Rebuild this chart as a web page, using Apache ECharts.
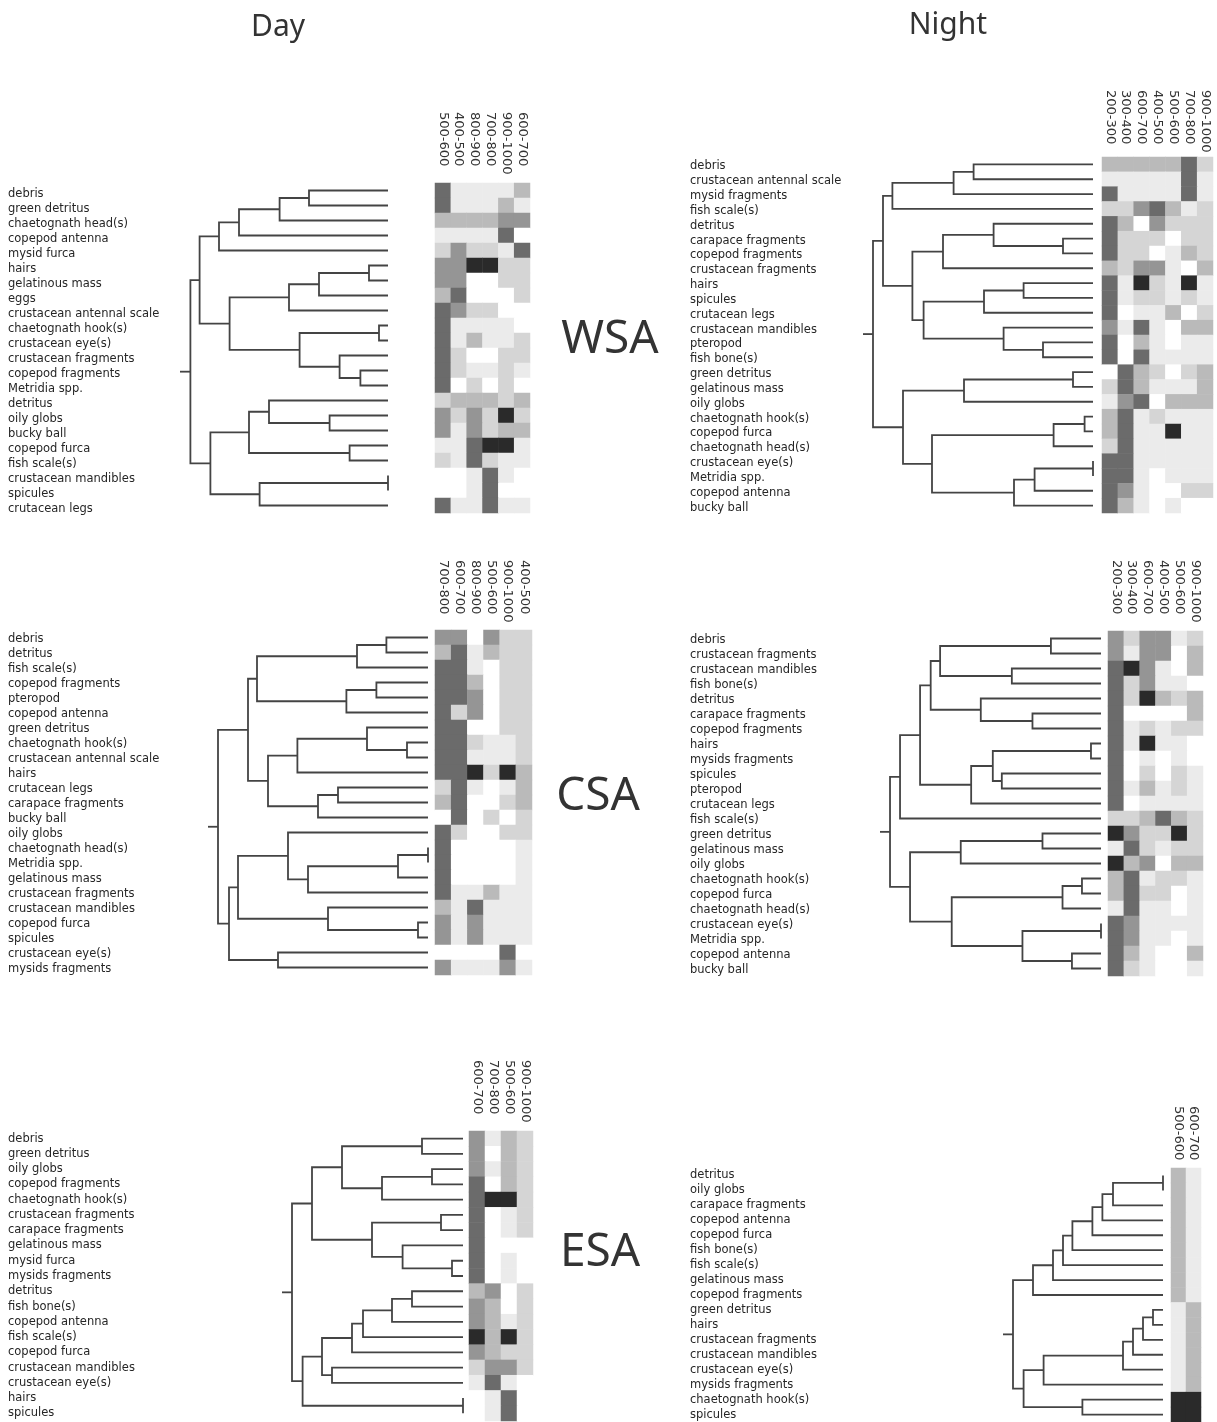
<!DOCTYPE html>
<html>
<head>
<meta charset="utf-8">
<script src="https://cdn.jsdelivr.net/npm/echarts@6/dist/echarts.min.js"></script>
<style>
  html, body { margin: 0; padding: 0; background: #ffffff; }
  #chart { width: 1217px; height: 1422px; }
</style>
</head>
<body>
<div id="chart"></div>
<script>
// Shade level of each cell: 0 = absent (white) ... 6 = most abundant (black).
// Trees are nested [left, right, height]; a plain number is a leaf (row index).

// ---------- WSA, day ----------
const wsaDayItems = ['debris', 'green detritus', 'chaetognath head(s)', 'copepod antenna', 'mysid furca',
  'hairs', 'gelatinous mass', 'eggs', 'crustacean antennal scale', 'chaetognath hook(s)', 'crustacean eye(s)',
  'crustacean fragments', 'copepod fragments', 'Metridia spp.', 'detritus', 'oily globs', 'bucky ball',
  'copepod furca', 'fish scale(s)', 'crustacean mandibles', 'spicules', 'crutacean legs'];
const wsaDayDepths = ['500-600', '400-500', '800-900', '700-800', '900-1000', '600-700'];
const wsaDayShade = [
  [5, 1, 1, 1, 1, 3], [5, 1, 1, 1, 3, 1], [3, 3, 3, 3, 4, 4], [1, 1, 1, 1, 5, 0],
  [2, 4, 2, 2, 1, 5], [4, 4, 6, 6, 2, 2], [4, 4, 0, 0, 2, 2], [3, 5, 0, 0, 0, 2],
  [5, 4, 2, 2, 0, 0], [5, 1, 1, 1, 1, 0], [5, 1, 3, 1, 1, 2], [5, 2, 0, 0, 2, 2],
  [5, 2, 1, 1, 2, 1], [5, 0, 2, 0, 2, 0], [2, 3, 3, 3, 2, 3], [4, 2, 4, 2, 6, 2],
  [4, 1, 4, 2, 3, 3], [1, 1, 5, 6, 6, 1], [2, 1, 5, 2, 1, 1], [0, 0, 1, 5, 1, 0],
  [0, 0, 1, 5, 0, 0], [5, 1, 1, 5, 1, 1]];
const wsaDayTree = [
  [
    [[[[0, 1, 39.5], 2, 54.2], 3, 74.5], 4, 84.5],
    [[[[5, 6, 9.5], 7, 34.5], 8, 49.5], [[9, 10, 4.5], [11, [12, 13, 13.8], 24.2], 44.2], 79.2],
    94.2
  ],
  [[[14, [15, 16, 29.2], 59.5], [17, 18, 19.2], 69.5], [[19, 20, 0], 21, 64.2], 88.8],
  98.8];

// ---------- WSA, night ----------
const wsaNightItems = ['debris', 'crustacean antennal scale', 'mysid fragments', 'fish scale(s)', 'detritus',
  'carapace fragments', 'copepod fragments', 'crustacean fragments', 'hairs', 'spicules', 'crutacean legs',
  'crustacean mandibles', 'pteropod', 'fish bone(s)', 'green detritus', 'gelatinous mass', 'oily globs',
  'chaetognath hook(s)', 'copepod furca', 'chaetognath head(s)', 'crustacean eye(s)', 'Metridia spp.',
  'copepod antenna', 'bucky ball'];
const wsaNightDepths = ['200-300', '300-400', '600-700', '400-500', '500-600', '700-800', '900-1000'];
const wsaNightShade = [
  [3, 3, 3, 3, 3, 5, 2], [1, 1, 1, 1, 1, 5, 1], [5, 1, 1, 1, 1, 5, 1], [2, 2, 4, 5, 3, 1, 2],
  [5, 3, 0, 4, 2, 2, 2], [5, 2, 2, 2, 0, 2, 2], [5, 2, 2, 0, 1, 3, 2], [3, 2, 4, 4, 1, 0, 3],
  [5, 1, 6, 2, 1, 6, 1], [5, 1, 2, 2, 1, 2, 1], [5, 0, 1, 1, 3, 0, 2], [4, 1, 5, 1, 0, 3, 3],
  [5, 0, 3, 1, 0, 1, 1], [5, 0, 5, 1, 1, 1, 1], [0, 5, 3, 2, 0, 2, 3], [2, 5, 3, 1, 1, 1, 3],
  [1, 4, 5, 0, 3, 3, 3], [3, 5, 1, 2, 1, 1, 1], [3, 5, 1, 1, 6, 1, 1], [2, 5, 1, 1, 1, 1, 1],
  [5, 5, 1, 1, 1, 1, 1], [5, 5, 1, 0, 1, 1, 1], [5, 4, 1, 0, 0, 2, 2], [5, 3, 1, 0, 1, 0, 0]];
const wsaNightTree = [
  [
    [[[0, 1, 59.7], 2, 69.7], 3, 100.3],
    [[[4, [5, 6, 15], 49.7], 7, 75], [[[8, 9, 34.7], 10, 54.5], [11, [12, 13, 25], 44.7], 84.7], 90.3],
    105
  ],
  [[[14, 15, 10], 16, 64.5], [[[17, 18, 4.2], 19, 19.7], [[[20, 21, 0], 22, 29.2], 23, 39.5], 80.5], 95],
  110];

// ---------- CSA, day ----------
const csaDayItems = ['debris', 'detritus', 'fish scale(s)', 'copepod fragments', 'pteropod', 'copepod antenna',
  'green detritus', 'chaetognath hook(s)', 'crustacean antennal scale', 'hairs', 'crutacean legs',
  'carapace fragments', 'bucky ball', 'oily globs', 'chaetognath head(s)', 'Metridia spp.', 'gelatinous mass',
  'crustacean fragments', 'crustacean mandibles', 'copepod furca', 'spicules', 'crustacean eye(s)',
  'mysids fragments'];
const csaDayDepths = ['700-800', '600-700', '800-900', '500-600', '900-1000', '400-500'];
const csaDayShade = [
  [4, 4, 0, 4, 2, 2], [3, 5, 1, 3, 2, 2], [5, 5, 1, 0, 2, 2], [5, 5, 3, 0, 2, 2],
  [5, 5, 4, 0, 2, 2], [5, 2, 4, 0, 2, 2], [5, 5, 0, 0, 2, 2], [5, 5, 2, 1, 1, 2],
  [5, 5, 1, 1, 1, 2], [5, 5, 6, 2, 6, 3], [2, 5, 1, 0, 1, 3], [3, 5, 0, 0, 2, 3],
  [0, 5, 0, 2, 0, 2], [5, 2, 0, 0, 2, 2], [5, 0, 0, 0, 0, 1], [5, 0, 0, 0, 0, 1],
  [5, 0, 0, 0, 0, 1], [5, 1, 1, 3, 1, 1], [3, 1, 5, 1, 1, 1], [4, 1, 4, 1, 1, 1],
  [4, 1, 4, 1, 1, 1], [0, 0, 0, 0, 5, 0], [4, 1, 1, 1, 4, 1]];
const csaDayTree = [
  [
    [[[0, 1, 20.8], 2, 35.5], [[3, 4, 25.8], 5, 40.8], 85.5],
    [[[6, [7, 8, 10.5], 30.5], 9, 65.3], [[10, 11, 45], 12, 55], 80],
    90
  ],
  [[[13, [[[14, 15, 0], 16, 15], 17, 60], 70], [18, [19, 20, 5], 50], 95], [21, 22, 75], 99.5],
  105];

// ---------- CSA, night ----------
const csaNightItems = ['debris', 'crustacean fragments', 'crustacean mandibles', 'fish bone(s)', 'detritus',
  'carapace fragments', 'copepod fragments', 'hairs', 'mysids fragments', 'spicules', 'pteropod',
  'crutacean legs', 'fish scale(s)', 'green detritus', 'gelatinous mass', 'oily globs', 'chaetognath hook(s)',
  'copepod furca', 'chaetognath head(s)', 'crustacean eye(s)', 'Metridia spp.', 'copepod antenna',
  'bucky ball'];
const csaNightDepths = ['200-300', '300-400', '600-700', '400-500', '500-600', '900-1000'];
const csaNightShade = [
  [4, 2, 4, 4, 1, 2], [4, 1, 4, 4, 0, 3], [5, 6, 4, 1, 0, 3], [5, 2, 4, 1, 1, 0],
  [5, 2, 6, 3, 2, 3], [5, 0, 0, 0, 0, 3], [5, 1, 2, 1, 2, 2], [5, 1, 6, 1, 1, 0],
  [5, 0, 1, 0, 1, 0], [5, 0, 2, 0, 2, 1], [5, 1, 3, 1, 2, 1], [5, 0, 1, 1, 1, 1],
  [2, 2, 3, 5, 3, 2], [6, 4, 2, 2, 6, 2], [1, 5, 2, 1, 2, 2], [6, 3, 4, 0, 3, 3],
  [3, 5, 1, 2, 2, 1], [3, 5, 2, 2, 0, 1], [1, 5, 1, 1, 0, 1], [5, 4, 1, 1, 1, 1],
  [5, 4, 1, 1, 0, 1], [5, 3, 1, 0, 0, 3], [5, 2, 1, 0, 0, 1]];
const csaNightTree = [
  [
    [
      [[[0, 1, 25], [2, 3, 44.5], 80.3], [4, [5, 6, 34.2], 60], 85],
      [[[7, 8, 5], [9, 10, 49.5], 54], 11, 64.8],
      90.3
    ],
    12, 100.3
  ],
  [[[13, 14, 29.2], 15, 70], [[[16, 17, 9.5], 18, 19.2], [[19, 20, 0], [21, 22, 14.5], 39.2], 74.5], 95.3],
  105.3];

// ---------- ESA, day ----------
const esaDayItems = ['debris', 'green detritus', 'oily globs', 'copepod fragments', 'chaetognath hook(s)',
  'crustacean fragments', 'carapace fragments', 'gelatinous mass', 'mysid furca', 'mysids fragments',
  'detritus', 'fish bone(s)', 'copepod antenna', 'fish scale(s)', 'copepod furca', 'crustacean mandibles',
  'crustacean eye(s)', 'hairs', 'spicules'];
const esaDayDepths = ['600-700', '700-800', '500-600', '900-1000'];
const esaDayShade = [
  [4, 1, 3, 2], [4, 0, 3, 2], [4, 1, 3, 2], [5, 0, 3, 2], [5, 6, 6, 2],
  [5, 0, 1, 2], [5, 0, 1, 2], [5, 0, 0, 0], [5, 0, 1, 0], [5, 0, 1, 0],
  [3, 4, 0, 2], [4, 3, 0, 2], [4, 3, 1, 2], [6, 3, 6, 2], [4, 3, 2, 2],
  [2, 4, 4, 2], [1, 5, 1, 0], [0, 1, 5, 0], [0, 1, 5, 0]];
const esaDayTree = [
  [[[0, 1, 20.5], [[2, 3, 15.5], 4, 40.5], 60.5], [[5, 6, 11], [7, [8, 9, 5.5], 30.2], 45.5], 75.5],
  [[[[[[10, 11, 25.5], 12, 35.5], 13, 50], 14, 55.5], [15, 16, 65.5], 70.5], [17, 18, 0], 80.2],
  85.5];

// ---------- ESA, night ----------
const esaNightItems = ['detritus', 'oily globs', 'carapace fragments', 'copepod antenna', 'copepod furca',
  'fish bone(s)', 'fish scale(s)', 'gelatinous mass', 'copepod fragments', 'green detritus', 'hairs',
  'crustacean fragments', 'crustacean mandibles', 'crustacean eye(s)', 'mysids fragments',
  'chaetognath hook(s)', 'spicules'];
const esaNightDepths = ['500-600', '600-700'];
const esaNightShade = [
  [3, 1], [3, 1], [3, 1], [3, 1], [3, 1], [3, 1], [3, 1], [3, 1], [3, 1],
  [1, 3], [1, 3], [1, 3], [1, 3], [1, 3], [1, 3], [6, 6], [6, 6]];
const esaNightTree = [
  [[[[[[[[0, 1, 0], 2, 25], 3, 30.3], 4, 35.3], 5, 45.3], 6, 50], 7, 55], 8, 65],
  [[[[[[9, 10, 5], 11, 10], 12, 15], 13, 20], 14, 59.7], [15, 16, 40.3], 69.7],
  75];

// Panel placement (pixels) and the extent of each tree's root stub.
const panels = [
  { items: wsaDayItems, depths: wsaDayDepths, shade: wsaDayShade, tree: wsaDayTree, reach: 104,
    box: { labelX: 8, labelDrop: 4, treeLeft: 180, treeRight: 388, mapLeft: 435, mapRight: 530, top: 183, bottom: 513, headGap: 71 } },
  { items: wsaNightItems, depths: wsaNightDepths, shade: wsaNightShade, tree: wsaNightTree, reach: 115,
    box: { labelX: 690, labelDrop: 2, treeLeft: 863, treeRight: 1093, mapLeft: 1102, mapRight: 1213, top: 157, bottom: 513, headGap: 67 } },
  { items: csaDayItems, depths: csaDayDepths, shade: csaDayShade, tree: csaDayTree, reach: 110,
    box: { labelX: 8, labelDrop: 2, treeLeft: 208, treeRight: 428, mapLeft: 435, mapRight: 532, top: 630, bottom: 975, headGap: 70 } },
  { items: csaNightItems, depths: csaNightDepths, shade: csaNightShade, tree: csaNightTree, reach: 110.3,
    box: { labelX: 690, labelDrop: 2, treeLeft: 880, treeRight: 1101, mapLeft: 1108, mapRight: 1203, top: 631, bottom: 976, headGap: 71 } },
  { items: esaDayItems, depths: esaDayDepths, shade: esaDayShade, tree: esaDayTree, reach: 90.5,
    box: { labelX: 8, labelDrop: 0, treeLeft: 282, treeRight: 463, mapLeft: 469, mapRight: 533, top: 1131, bottom: 1421, headGap: 71 } },
  { items: esaNightItems, depths: esaNightDepths, shade: esaNightShade, tree: esaNightTree, reach: 80,
    box: { labelX: 690, labelDrop: 0, treeLeft: 1003, treeRight: 1163, mapLeft: 1171, mapRight: 1201, top: 1168, bottom: 1422, headGap: 62 } }
];

const labelFont = 'DejaVu Sans';
const inkColor = '#262626';

// Turns a nested tree into elbow polylines in (height, row) data space.
function treeSegments(node, segs) {
  if (typeof node === 'number') return { y: node, h: 0 };
  const a = treeSegments(node[0], segs);
  const b = treeSegments(node[1], segs);
  const h = node[2];
  segs.push([[a.h, a.y], [h, a.y], [h, b.y], [b.h, b.y]]);
  return { y: (a.y + b.y) / 2, h: h };
}

const option = {
  backgroundColor: '#ffffff',
  animation: false,
  grid: [], xAxis: [], yAxis: [], series: [],
  visualMap: {
    type: 'continuous', show: false, min: 0, max: 6, seriesIndex: [],
    inRange: { color: ['#ffffff', '#ebebeb', '#d5d5d5', '#bababa', '#959595', '#6b6b6b', '#2a2a2a'] }
  },
  graphic: [
    { type: 'text', x: 278, y: 27, style: { text: 'Day', font: '30px "Noto Sans"', fill: '#333333', align: 'center', verticalAlign: 'middle' } },
    { type: 'text', x: 948, y: 25, style: { text: 'Night', font: '30px "Noto Sans"', fill: '#333333', align: 'center', verticalAlign: 'middle' } },
    { type: 'text', x: 610, y: 340, style: { text: 'WSA', font: '46px "Noto Sans"', fill: '#333333', align: 'center', verticalAlign: 'middle' } },
    { type: 'text', x: 598, y: 797, style: { text: 'CSA', font: '46px "Noto Sans"', fill: '#333333', align: 'center', verticalAlign: 'middle' } },
    { type: 'text', x: 600, y: 1253, style: { text: 'ESA', font: '46px "Noto Sans"', fill: '#333333', align: 'center', verticalAlign: 'middle' } }
  ]
};

panels.forEach(function (p, i) {
  const b = p.box;
  const tIdx = 2 * i, mIdx = 2 * i + 1;
  const height = b.bottom - b.top;

  // dendrogram grid
  option.grid.push({ left: b.treeLeft, top: b.top, width: b.treeRight - b.treeLeft, height: height, outerBoundsMode: 'none' });
  // heatmap grid
  option.grid.push({ left: b.mapLeft, top: b.top, width: b.mapRight - b.mapLeft, height: height, outerBoundsMode: 'none' });

  option.xAxis.push({ type: 'value', gridIndex: tIdx, min: 0, max: p.reach, inverse: true, show: false });
  option.yAxis.push({ type: 'value', gridIndex: tIdx, min: -0.5, max: p.items.length - 0.5, inverse: true, show: false });

  // depth labels read upwards and hang from a common top line
  option.xAxis.push({
    type: 'category', gridIndex: mIdx, position: 'top', data: p.depths,
    axisLine: { show: false }, axisTick: { show: false }, splitLine: { show: false },
    axisLabel: {
      interval: 0, rotate: 90, inside: true, margin: -b.headGap,
      fontFamily: labelFont, fontSize: 13, color: '#333333'
    }
  });
  option.yAxis.push({
    type: 'category', gridIndex: mIdx, data: p.items, inverse: true,
    axisLine: { show: false }, axisTick: { show: false }, splitLine: { show: false },
    axisLabel: {
      interval: 0, align: 'left', margin: b.mapLeft - b.labelX,
      verticalAlign: b.labelDrop > 0 ? 'top' : 'middle',
      lineHeight: b.labelDrop > 0 ? 2 * b.labelDrop : 13,
      fontFamily: labelFont, fontSize: 11.5, color: inkColor
    }
  });

  const segs = [];
  const root = treeSegments(p.tree, segs);
  segs.push([[root.h, root.y], [p.reach, root.y]]);

  option.series.push({
    type: 'lines', coordinateSystem: 'cartesian2d', xAxisIndex: tIdx, yAxisIndex: tIdx,
    polyline: true, silent: true,
    lineStyle: { color: '#444444', width: 1.8, opacity: 1 },
    data: segs.map(function (s) { return { coords: s }; })
  });

  const cells = [];
  p.shade.forEach(function (row, r) {
    row.forEach(function (v, c) { cells.push([c, r, v]); });
  });
  option.visualMap.seriesIndex.push(option.series.length);
  option.series.push({
    type: 'heatmap', xAxisIndex: mIdx, yAxisIndex: mIdx, silent: true,
    itemStyle: { borderWidth: 0 },
    data: cells
  });
});

const chart = echarts.init(document.getElementById('chart'), null, { renderer: 'canvas' });
chart.setOption(option);
</script>
</body>
</html>
